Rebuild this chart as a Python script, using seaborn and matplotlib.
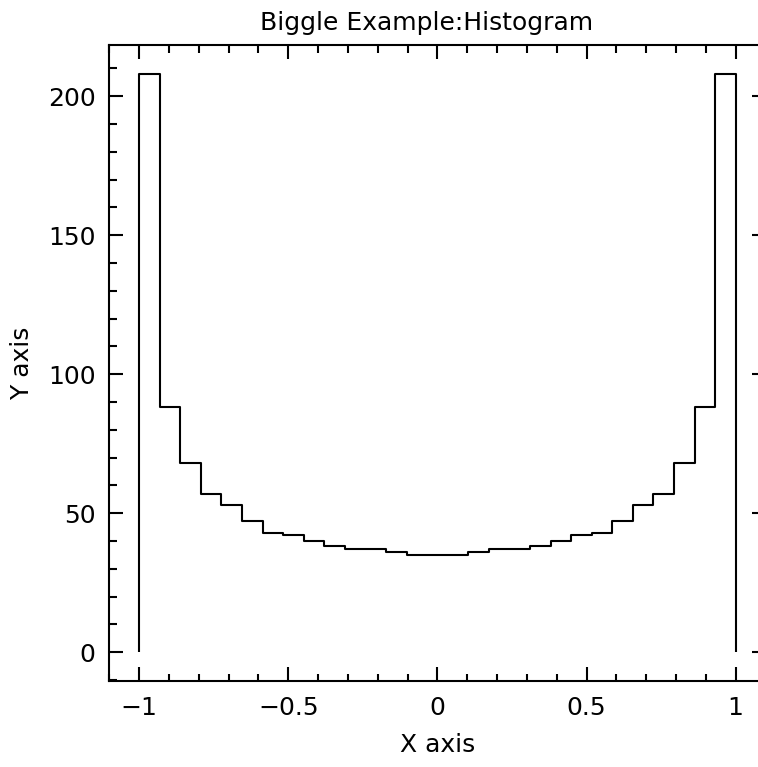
import numpy as np
import pandas as pd
import seaborn as sns
import matplotlib.pyplot as plt
from matplotlib.ticker import MultipleLocator

# histogram counts: 29 equal bins between -1 and 1
bin_lo = -1.0
bin_hi = 1.0
counts = [208, 88, 68, 57, 53, 47, 43, 42, 40, 38, 37, 37, 36, 35, 35,
          35, 36, 37, 37, 38, 40, 42, 43, 47, 53, 57, 68, 88, 208]
x_ticks = [-1, -0.5, 0, 0.5, 1]
x_tick_labels = ["\u22121", "\u22120.5", "0", "0.5", "1"]
y_ticks = [0, 50, 100, 150, 200]
y_tick_labels = ["0", "50", "100", "150", "200"]

edges = np.linspace(bin_lo, bin_hi, len(counts) + 1)
centers = (edges[:-1] + edges[1:]) / 2
df = pd.DataFrame({"x": centers, "count": counts})

sns.set_style("ticks")
plt.rcParams["font.family"] = ["DejaVu Sans"]
plt.rcParams["text.color"] = "black"
plt.rcParams["axes.labelcolor"] = "black"
plt.rcParams["xtick.color"] = "black"
plt.rcParams["ytick.color"] = "black"

fig = plt.figure(figsize=(7.58, 7.67), dpi=100)
# axes run past the right edge of the image, like the original
ax = fig.add_axes([0.1442, 0.1121, 0.8657, 0.8292])

sns.histplot(data=df, x="x", weights="count", bins=len(counts),
             binrange=(bin_lo, bin_hi), element="step",
             fill=False, color="black", linewidth=1.5, ax=ax)
# close the outline down to zero at both ends
ax.vlines([edges[0], edges[-1]], 0, [counts[0], counts[-1]], color="black", lw=1.5)

ax.set_xlim(-1.1, 1.1)
ax.set_ylim(-10.4, 218.4)
ax.set_xticks(x_ticks, x_tick_labels)
ax.set_yticks(y_ticks, y_tick_labels)
ax.xaxis.set_minor_locator(MultipleLocator(0.1))
ax.yaxis.set_minor_locator(MultipleLocator(10))
ax.tick_params(which="both", direction="in", top=True, right=True, width=1.5,
               color="black", labelsize=18)
ax.tick_params(which="major", length=10)
ax.tick_params(which="minor", length=5.4)
ax.tick_params(axis="x", pad=11)
ax.tick_params(axis="y", pad=10)
for s in ax.spines.values():
    s.set_linewidth(1.5)
    s.set_color("black")

ax.set_xlabel("X axis", fontsize=18, labelpad=9)
ax.set_ylabel("Y axis", fontsize=18, labelpad=10)
ax.set_title("Biggle Example:Histogram", fontsize=18, x=0.483, pad=11)

fig.savefig("out.png", dpi=100)
